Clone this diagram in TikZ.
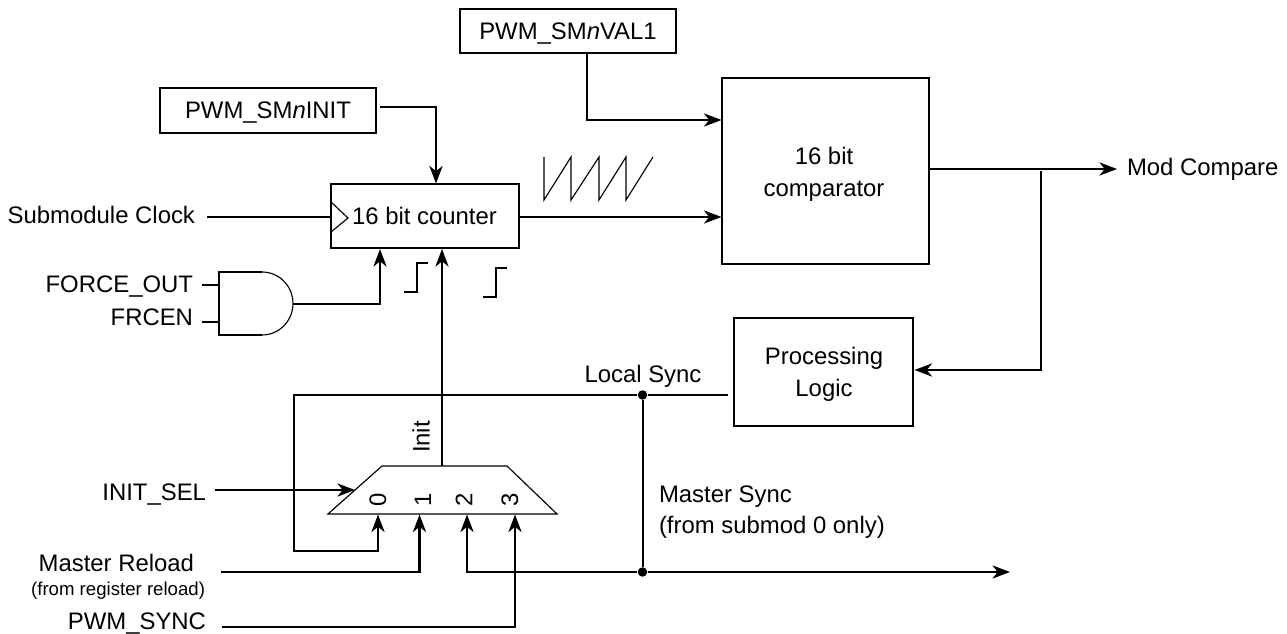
\documentclass[tikz,border=0pt]{standalone}
\usepackage{fontspec}
\setmainfont{Liberation Sans}
\usetikzlibrary{arrows.meta}
\tikzset{wire/.style={line width=1.15pt},arr/.style={wire,-{Stealth[length=10pt,width=7.5pt,inset=3pt]}},thinln/.style={line width=0.65pt},
  blk/.style={draw,line width=1.15pt,inner sep=0pt,outer sep=0pt,text depth=0pt},lbl/.style={inner sep=0pt,outer sep=0pt,font=\fontsize{13.6}{17}\selectfont},
  tinylbl/.style={inner sep=0pt,outer sep=0pt,font=\fontsize{10.6}{13}\selectfont},dot/.style={circle,fill,inner sep=0pt,minimum size=5.4pt}}
\begin{document}
\begin{tikzpicture}[x=0.02cm,y=-0.02cm]
\useasboundingbox (0,0) rectangle (1287,634);
\node[blk,lbl,minimum width=4.32cm,minimum height=.88cm] (val1) at (568,31) {PWM\_SM\textit{n}VAL1};
\node[blk,lbl,minimum width=4.32cm,minimum height=.9cm] (init) at (268,110.5) {PWM\_SM\textit{n}INIT};
\node[blk,minimum width=3.76cm,minimum height=1.28cm] (cnt) at (425,216) {};
\node[lbl,anchor=base] (cntlbl) at (424.5,225) {16 bit counter};
\node[blk,minimum width=4.14cm,minimum height=3.72cm] (cmp) at (825.5,171) {};
\node[lbl,anchor=base,align=center] (cmplbl) at (824,197) {16 bit\\[1.4pt]comparator};
\node[blk,minimum width=3.58cm,minimum height=2.16cm] (proc) at (823.5,372) {};
\node[lbl,anchor=base,align=center] (proclbl) at (824,397) {Processing\\[1.4pt]Logic};

\node[lbl,anchor=base east] (clk) at (195,224) {Submodule Clock};
\node[lbl,anchor=base east] (fout) at (193,293) {FORCE\_OUT};
\node[lbl,anchor=base east] (frc) at (193,326) {FRCEN};
\node[lbl,anchor=base east] (isel) at (206,500) {INIT\_SEL};
\node[lbl,anchor=base east] (mrl) at (194,571) {Master Reload};
\node[tinylbl,anchor=base east] (mrl2) at (205,595) {(from register reload)};
\node[lbl,anchor=base east] (psync) at (206,629) {PWM\_SYNC};
\node[lbl,anchor=base west] (mod) at (1127,176) {Mod Compare};
\node[lbl,anchor=base] (lsync) at (643,383) {Local Sync};
\node[lbl,anchor=base west] (msync) at (659,502) {Master Sync};
\node[lbl,anchor=base west] (msync2) at (659,533) {(from submod 0 only)};
\node[lbl,rotate=90] (ilbl) at (421,437) {Init};
\node[lbl,rotate=90] (m0) at (378,500) {0}; \node[lbl,rotate=90] (m1) at (423,500) {1}; \node[lbl,rotate=90] (m2) at (464,500) {2}; \node[lbl,rotate=90] (m3) at (510,500) {3};
\node[dot] (d1) at (642.5,395) {}; \node[dot] (d2) at (642.5,572) {};

\coordinate (branch) at (1041,171); \coordinate (gout) at (293,304); \coordinate (endm) at (1010,572); \coordinate (procl) at (728,395); \coordinate (initr) at (380,107);
\coordinate (clkin) at (207,217); \coordinate (fin) at (202,285); \coordinate (rin) at (202,322); \coordinate (mrin) at (221,572); \coordinate (psin) at (222,627); \coordinate (selin) at (215,490);

\draw[thinln] (382,466) -- (507,466) -- (557,514) -- (328,514) -- cycle;
\draw[arr] (587,53) |- (721.5,120);
\draw[arr] (initr) -| (436,183.5);
\draw[wire] (clkin) -- (331,217);
\draw[thinln] (331,202) -- (348,218) -- (331,232);
\draw[arr] (519,217) -- (721.5,217);
\draw[arr] (929,169) -- (1117,169);
\draw[arr] (branch) |- (914.5,370);
\draw[arr] (gout) -| (380,249);
\draw[arr] (442,466) -- (442,249);
\draw[wire] (fin) -- (219,285); \draw[wire] (rin) -- (219,322);
\draw[wire] (262,335) -- (219,335) -- (219,272) -- (262,272);
\draw[thinln] (262,272) arc[start angle=90,end angle=-90,x radius=.62cm,y radius=.63cm];
\draw[wire] (404,292) -- (417,292) -- (417,263) -- (428,263);
\draw[wire] (483,297) -- (496,297) -- (496,268) -- (507,268);
\draw[thinln] (544,157) -- (544,200) -- (571,157) -- (571,200) -- (599,157) -- (599,200) -- (626,157) -- (626,200) -- (653,157);
\draw[wire] (procl) -- (d1);
\draw[arr] (d1) -- (294,395) |- (378,551) -- (378,514.5);
\draw[wire] (d1) -- (d2);
\draw[arr] (d2) -- (endm);
\draw[arr] (d2) -| (467,514.5);
\draw[arr] (mrin) -| (419.5,514.5);
\draw[arr] (psin) -| (515,514.5);
\draw[arr] (selin) -- (355,490);
\end{tikzpicture}
\end{document}
